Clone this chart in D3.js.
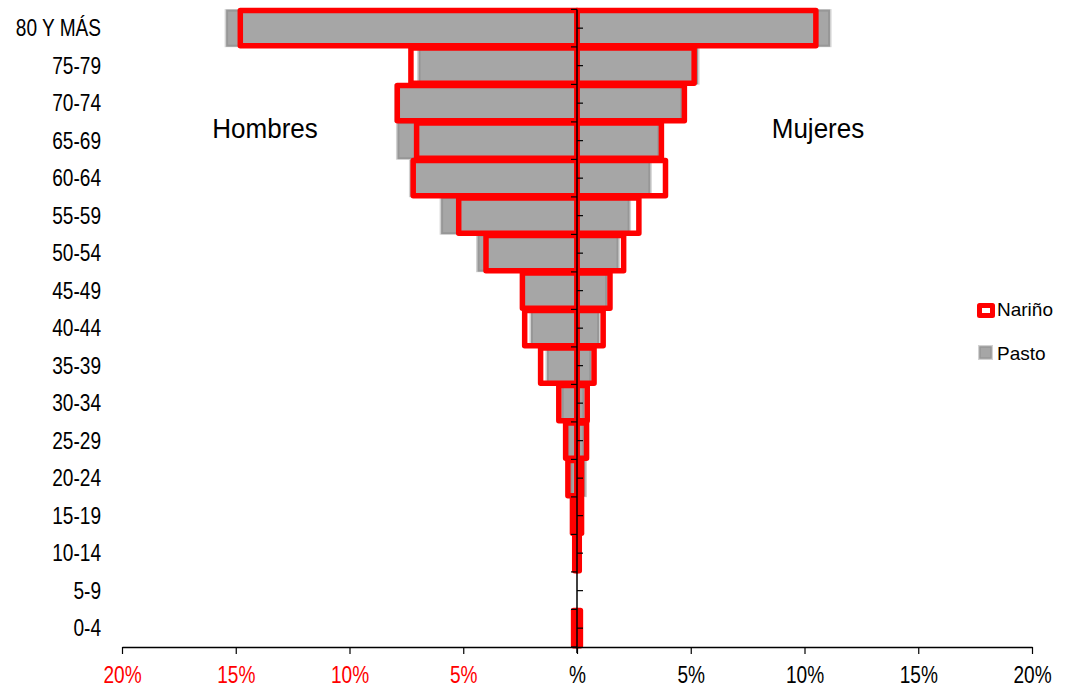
<!DOCTYPE html>
<html>
<head>
<meta charset="utf-8">
<script src="https://cdn.jsdelivr.net/npm/d3@7/dist/d3.min.js"></script>
<style>
  html, body { margin: 0; padding: 0; background: #fff; }
  svg { display: block; }
  text { font-family: "Liberation Sans", Arial, sans-serif; }
</style>
</head>
<body>
<svg id="chart" width="1065" height="688"></svg>
<script>
// ---------- data ----------
const ageGroups = ["80 Y MÁS","75-79","70-74","65-69","60-64","55-59","50-54","45-49",
                   "40-44","35-39","30-34","25-29","20-24","15-19","10-14","5-9","0-4"];
// percentages
const narinoHombres = [14.8, 7.3, 7.9, 7.05, 7.2, 5.2, 4.0, 2.4, 2.3, 1.6, 0.8, 0.5, 0.4, 0.2, 0.1, 0, 0.15];
const narinoMujeres = [10.5, 5.15, 4.72, 3.71, 3.89, 2.72, 2.05, 1.45, 1.15, 0.75, 0.45, 0.42, 0.2, 0.2, 0.1, 0, 0.15];
const pastoHombres  = [15.4, 6.94, 7.95, 7.87, 7.3, 5.95, 4.35, 2.4, 2.0, 1.3, 0.65, 0.4, 0.27, 0.12, 0.05, 0, 0.05];
const pastoMujeres  = [11.1, 5.3, 4.6, 3.6, 3.2, 2.29, 1.8, 1.3, 0.95, 0.6, 0.3, 0.3, 0.35, 0.1, 0.05, 0, 0.05];
const xTicks = [-20, -15, -10, -5, 0, 5, 10, 15, 20];
const seriesNames = ["Nariño", "Pasto"];
const sideLabels = ["Hombres", "Mujeres"];

// ---------- layout ----------
const svg = d3.select("#chart");
const x = d3.scaleLinear().domain([-20, 20]).range([122, 1032]);
const y = d3.scaleBand().domain(ageGroups).range([9.4, 646.9]).paddingInner(0.065).paddingOuter(0.0325);
const bandStep = y.step();
const rows = ageGroups.map((a, i) => ({
  age: a, nh: narinoHombres[i], nm: narinoMujeres[i], ph: pastoHombres[i], pm: pastoMujeres[i]
}));

const RED = "#ff0000";

// ---------- Pasto (gray) bars ----------
const gPasto = svg.append("g");
function grayBar(sel, x0, x1, yy, h) {
  if (x1 - x0 <= 0) return;
  sel.append("rect").attr("x", x0 - 2).attr("y", yy - 1.5).attr("width", x1 - x0 + 4).attr("height", h + 3)
    .attr("fill", "#d2d2d2");
  sel.append("rect").attr("x", x0 + 0.5).attr("y", yy).attr("width", Math.max(0, x1 - x0 - 1)).attr("height", h)
    .attr("fill", "#a6a6a6").attr("stroke", "#979797").attr("stroke-width", 2);
}
rows.forEach(r => {
  const yy = y(r.age), h = y.bandwidth();
  grayBar(gPasto, x(-r.ph), x(0), yy, h);
  grayBar(gPasto, x(0), x(r.pm), yy, h);
});

// ---------- Nariño (red outline) bars ----------
const gNar = svg.append("g");
rows.forEach(r => {
  const yy = y(r.age), h = y.bandwidth();
  if (r.nh > 0) gNar.append("rect").attr("x", x(-r.nh)).attr("y", yy).attr("width", x(0) - x(-r.nh)).attr("height", h)
    .attr("fill", "none").attr("stroke", RED).attr("stroke-width", 5.5).attr("stroke-linejoin", "round");
  if (r.nm > 0) gNar.append("rect").attr("x", x(0)).attr("y", yy).attr("width", x(r.nm) - x(0)).attr("height", h)
    .attr("fill", "none").attr("stroke", RED).attr("stroke-width", 5.5).attr("stroke-linejoin", "round");
});

// ---------- x axis ----------
const axisY = 647;
const xAxis = d3.axisBottom(x).tickValues(xTicks).tickSizeInner(7).tickSizeOuter(0)
  .tickFormat(v => v === 0 ? "%" : Math.abs(v) + "%");
const gx = svg.append("g").attr("transform", `translate(0,${axisY})`).call(xAxis);
gx.select(".domain").attr("stroke", "#000").attr("stroke-width", 1.5);
gx.selectAll(".tick line").attr("stroke", "#000").attr("stroke-width", 1.2);
gx.selectAll(".tick text")
  .attr("font-family", "'Liberation Sans', Arial, sans-serif")
  .attr("font-size", 23).attr("y", 36).attr("dy", 0)
  .attr("transform", "scale(0.83,1)")
  .attr("fill", d => d < 0 ? RED : "#000");

// ---------- y axis (center line) ----------
const gy = svg.append("g");
gy.append("line").attr("x1", x(0)).attr("x2", x(0)).attr("y1", y.range()[0]).attr("y2", axisY + 6)
  .attr("stroke", "#000").attr("stroke-width", 1.5);
// boundary ticks (left) and center ticks (right)
const boundaries = ageGroups.map(a => y(a) - y.step() * y.paddingInner() / 2);
boundaries.push(axisY);
gy.selectAll("line.bt").data(boundaries).enter().append("line")
  .attr("x1", x(0) - 6).attr("x2", x(0)).attr("y1", d => d).attr("y2", d => d)
  .attr("stroke", "#000").attr("stroke-width", 1.2);
gy.selectAll("line.ct").data(ageGroups).enter().append("line")
  .attr("x1", x(0)).attr("x2", x(0) + 6)
  .attr("y1", d => y(d) + y.bandwidth() / 2).attr("y2", d => y(d) + y.bandwidth() / 2)
  .attr("stroke", "#000").attr("stroke-width", 1.2);

// ---------- category labels ----------
svg.append("g").selectAll("text").data(ageGroups).enter().append("text")
  .attr("transform", d => `translate(101,${y(d) + y.bandwidth() / 2 + 8.2}) scale(0.83,1)`)
  .attr("text-anchor", "end").attr("font-size", 23).attr("fill", "#000").text(d => d);

// ---------- side labels ----------
svg.append("text").attr("transform", "translate(265,138) scale(0.93,1)")
  .attr("text-anchor", "middle").attr("font-size", 28).text(sideLabels[0]);
svg.append("text").attr("transform", "translate(818,138) scale(0.93,1)")
  .attr("text-anchor", "middle").attr("font-size", 28).text(sideLabels[1]);

// ---------- legend ----------
const lg = svg.append("g");
lg.append("rect").attr("x", 979.5).attr("y", 305.5).attr("width", 13).attr("height", 10)
  .attr("fill", "#fff").attr("stroke", RED).attr("stroke-width", 5).attr("stroke-linejoin", "round");
lg.append("text").attr("x", 997).attr("y", 316).attr("font-size", 19).text(seriesNames[0]);
lg.append("rect").attr("x", 978).attr("y", 345).attr("width", 15).attr("height", 15).attr("fill", "#d2d2d2");
lg.append("rect").attr("x", 980).attr("y", 347).attr("width", 11).attr("height", 11)
  .attr("fill", "#a6a6a6").attr("stroke", "#979797").attr("stroke-width", 1.5);
lg.append("text").attr("x", 997).attr("y", 360).attr("font-size", 19).text(seriesNames[1]);
</script>
</body>
</html>
